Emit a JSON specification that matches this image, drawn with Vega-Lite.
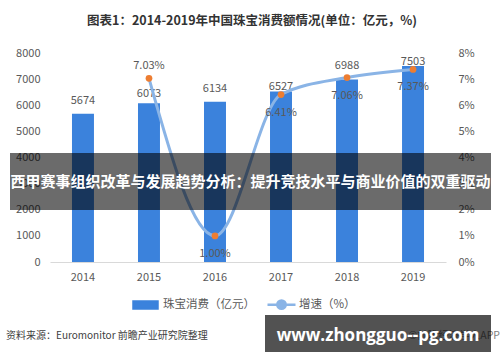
{
  "$schema": "https://vega.github.io/schema/vega-lite/v6.json",
  "width": 396,
  "height": 209,
  "autosize": {"type": "none"},
  "padding": {"left": 50, "top": 53, "right": 54, "bottom": 100},
  "background": "white",
  "config": {
    "view": {"stroke": null},
    "font": "Noto Sans CJK SC",
    "axis": {"labelFont": "Noto Sans CJK SC", "labelFontSize": 11, "labelColor": "#595959", "grid": false, "ticks": false, "title": null},
    "legend": {"labelFont": "Noto Sans CJK SC"}
  },
  "title": {
    "text": "图表1：2014-2019年中国珠宝消费额情况(单位：亿元，%)",
    "fontSize": 12.5,
    "fontWeight": "bold",
    "color": "#333333",
    "offset": 20,
    "anchor": "middle",
    "dx": 4
  },
  "data": {
    "values": [
      {"year": "2014", "sales": 5674, "rate": null},
      {"year": "2015", "sales": 6073, "rate": 0.0703},
      {"year": "2016", "sales": 6134, "rate": 0.0100},
      {"year": "2017", "sales": 6527, "rate": 0.0641},
      {"year": "2018", "sales": 6988, "rate": 0.0706},
      {"year": "2019", "sales": 7503, "rate": 0.0737}
    ]
  },
  "encoding": {
    "x": {
      "field": "year",
      "type": "ordinal",
      "scale": {"paddingInner": 0.667, "paddingOuter": 0.333},
      "axis": {"labelAngle": 0, "labelPadding": 9, "domainColor": "#d9d9d9", "domainWidth": 1}
    }
  },
  "layer": [
    {
      "encoding": {
        "y": {
          "field": "sales",
          "type": "quantitative",
          "scale": {"domain": [0, 8000], "nice": false},
          "axis": {"orient": "left", "values": [0, 1000, 2000, 3000, 4000, 5000, 6000, 7000, 8000], "format": "d", "domain": false, "labelPadding": 10}
        }
      },
      "layer": [
        {
          "mark": {"type": "bar"},
          "encoding": {
            "color": {
              "datum": "珠宝消费（亿元）",
              "scale": {"domain": ["珠宝消费（亿元）", "增速（%）"], "range": ["#3b82dc", "#8ab4e6"]},
              "legend": {
                "title": null,
                "orient": "none",
                "legendX": 80,
                "legendY": 236,
                "direction": "horizontal",
                "labelFontSize": 11.5,
                "labelColor": "#595959",
                "symbolSize": 784,
                "columnPadding": 7,
                "labelOffset": 2,
                "encode": {
                  "symbols": {
                    "update": {
                      "shape": {"signal": "datum.value === '增速（%）' ? 'M-1,0H-0.3M0.3,0H1M-0.3,0A0.3,0.3,0,1,1,0.3,0A0.3,0.3,0,1,1,-0.3,0Z' : 'M-0.857,-0.25H0.857V0.25H-0.857Z'"},
                      "fill": {"signal": "datum.value === '增速（%）' ? '#ed7d31' : '#3b82dc'"},
                      "stroke": {"signal": "datum.value === '增速（%）' ? '#8ab4e6' : 'transparent'"},
                      "strokeWidth": {"value": 2.5},
                      "opacity": {"value": 1},
                      "fillOpacity": {"value": 1}
                    }
                  }
                }
              }
            }
          }
        },
        {
          "transform": [{"filter": "datum.year === '2014' || datum.year === '2016' || datum.year === '2018'"}],
          "mark": {"type": "text", "dy": -13, "fontSize": 11, "color": "#595959"},
          "encoding": {"text": {"field": "sales", "type": "quantitative", "format": "d"}}
        },
        {
          "transform": [{"filter": "datum.year === '2015'"}],
          "mark": {"type": "text", "dy": -9, "fontSize": 11, "color": "#595959"},
          "encoding": {"text": {"field": "sales", "type": "quantitative", "format": "d"}}
        },
        {
          "transform": [{"filter": "datum.year === '2017' || datum.year === '2019'"}],
          "mark": {"type": "text", "dy": -4, "fontSize": 11, "color": "#595959"},
          "encoding": {"text": {"field": "sales", "type": "quantitative", "format": "d"}}
        }
      ]
    },
    {
      "transform": [{"filter": "datum.rate != null"}],
      "encoding": {
        "y": {
          "field": "rate",
          "type": "quantitative",
          "scale": {"domain": [0, 0.08], "nice": false},
          "axis": {"orient": "right", "values": [0, 0.01, 0.02, 0.03, 0.04, 0.05, 0.06, 0.07, 0.08], "format": ".0%", "domain": false, "labelPadding": 12}
        }
      },
      "layer": [
        {
          "mark": {"type": "line", "interpolate": "monotone", "strokeWidth": 3},
          "encoding": {"color": {"datum": "增速（%）"}}
        },
        {
          "mark": {"type": "point", "filled": true, "size": 45, "color": "#ed7d31", "opacity": 1}
        },
        {
          "transform": [{"filter": "datum.year === '2015'"}],
          "mark": {"type": "text", "dy": -12, "fontSize": 11, "color": "#595959"},
          "encoding": {"text": {"field": "rate", "type": "quantitative", "format": ".2%"}}
        },
        {
          "transform": [{"filter": "datum.year !== '2015'"}],
          "mark": {"type": "text", "dy": 18, "fontSize": 11, "color": "#595959"},
          "encoding": {"text": {"field": "rate", "type": "quantitative", "format": ".2%"}}
        }
      ]
    },
    {
      "data": {"values": [{"k": 1}]},
      "mark": {"type": "rect", "fill": "#000000", "opacity": 0.58},
      "encoding": {"x": {"value": -40}, "x2": {"value": 441}, "y": {"value": 100}, "y2": {"value": 157}}
    },
    {
      "data": {"values": [{"k": 1}]},
      "mark": {"type": "text", "text": "西甲赛事组织改革与发展趋势分析：提升竞技水平与商业价值的双重驱动", "fontSize": 15, "fontWeight": "bold", "color": "#ffffff", "align": "center", "baseline": "middle"},
      "encoding": {"x": {"value": 200.5}, "y": {"value": 128.5}}
    },
    {
      "data": {"values": [{"k": 1}]},
      "mark": {"type": "text", "text": "资料来源：Euromonitor  前瞻产业研究院整理", "fontSize": 10, "color": "#404040", "align": "left", "baseline": "middle"},
      "encoding": {"x": {"value": -44}, "y": {"value": 283}}
    },
    {
      "data": {"values": [{"k": 1}]},
      "mark": {"type": "text", "text": "©前瞻经济学人APP", "fontSize": 10.5, "color": "#808080", "align": "right", "baseline": "middle"},
      "encoding": {"x": {"value": 450}, "y": {"value": 283}}
    },
    {
      "data": {"values": [{"k": 1}]},
      "mark": {"type": "rect", "fill": "#000000", "opacity": 0.68},
      "encoding": {"x": {"value": 215}, "x2": {"value": 441}, "y": {"value": 262}, "y2": {"value": 299}}
    },
    {
      "data": {"values": [{"k": 1}]},
      "mark": {"type": "text", "text": "www.zhongguo--pg.com", "font": "Open Sans", "fontSize": 17, "fontWeight": "bold", "color": "#ffffff", "align": "center", "baseline": "middle"},
      "encoding": {"x": {"value": 328}, "y": {"value": 283}}
    }
  ],
  "resolve": {"scale": {"y": "independent"}}
}
